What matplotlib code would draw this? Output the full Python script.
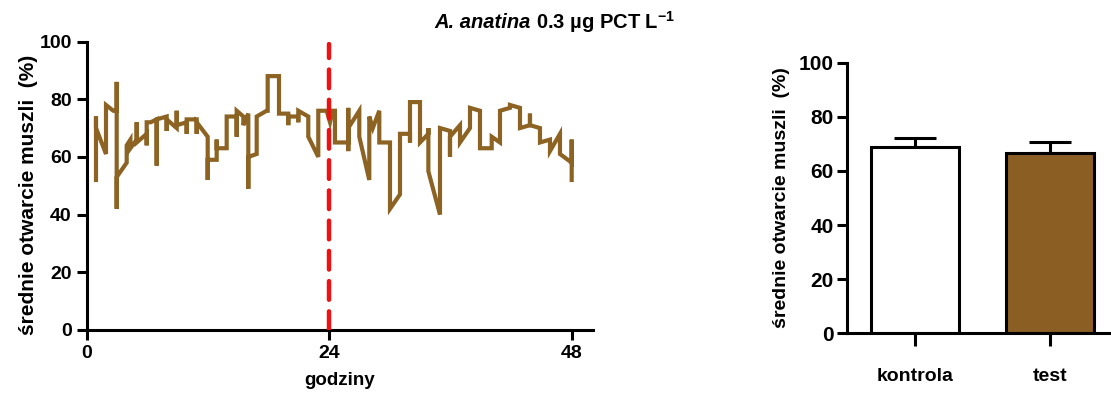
import matplotlib
matplotlib.use("Agg")
import matplotlib.pyplot as plt

plt.rcParams['font.family'] = ['Liberation Sans', 'DejaVu Sans']
plt.rcParams['mathtext.fontset'] = 'custom'
plt.rcParams['mathtext.rm'] = 'Liberation Sans:bold'
plt.rcParams['mathtext.default'] = 'rm'

# ---- time series (hours, mean shell opening %) ----
hours = [0.89, 0.89, 0.89, 1.88, 1.88, 2.6, 2.94, 2.94, 2.94, 2.94, 3.93, 3.93, 4.3, 4.3,
         4.92, 4.92, 4.92, 5.91, 5.91, 5.91, 6.3, 6.9, 6.9, 6.9, 7.89, 7.89, 7.89, 8.88,
         8.88, 8.88, 9.87, 9.87, 9.87, 10.86, 10.86, 10.86, 11.95, 11.95, 11.95, 12.84,
         12.84, 12.84, 13.83, 13.83, 14.82, 14.82, 14.82, 15.48, 15.48, 15.97, 15.97,
         15.97, 16.8, 16.8, 17.79, 17.89, 17.89, 19.01, 19.01, 19.93, 19.93, 19.93, 20.92,
         20.92, 20.92, 21.91, 21.91, 22.9, 22.9, 23.73, 24.06, 24.3, 24.55, 24.55, 25.87,
         25.87, 25.87, 25.87, 26.96, 26.96, 27.95, 27.95, 28.3, 28.94, 28.94, 30.0, 30.0,
         30.99, 30.99, 31.98, 31.98, 31.98, 32.97, 32.97, 33.8, 33.8, 33.8, 34.95, 34.95,
         35.94, 35.94, 35.94, 36.93, 36.93, 37.92, 37.92, 38.91, 38.91, 40.07, 40.07,
         40.89, 40.89, 41.88, 41.88, 42.87, 42.87, 43.86, 43.86, 43.86, 44.85, 44.85,
         45.84, 45.84, 46.83, 46.83, 47.99, 47.99, 47.99]
opening = [52, 74, 70, 61, 78, 76, 76, 86, 42, 53, 58, 64, 66, 63,
           66, 72, 65, 68, 64, 72, 72, 73, 57, 73, 74, 69, 73, 70,
           76, 71, 72, 68, 73, 73, 68, 72, 67, 52, 59, 59,
           66, 63, 63, 74, 74, 67, 76, 74, 71, 75, 49,
           60, 61, 74, 76, 76, 88, 88, 75, 75, 71, 74, 74,
           72, 76, 74, 67, 60, 76, 76, 72, 76, 76, 65, 65,
           77, 62, 70, 76, 67, 52, 74, 70, 76, 65, 65, 42,
           47, 68, 68, 65, 79, 79, 65, 68, 70, 55, 40, 70,
           69, 60, 67, 71, 65, 70, 77, 76, 63, 63, 67,
           65, 76, 77, 78, 77, 70, 71, 75, 71, 70, 65,
           66, 62, 68, 61, 58, 66, 52]
x_ticks = [0, 24, 48]
y_ticks = [0, 20, 40, 60, 80, 100]
treatment_start = 24

# ---- bar panel ----
groups = ['kontrola', 'test']
means = [69.0, 66.8]
errors = [3.1, 4.0]

brown = '#8C6322'
bar_brown = '#8B5E24'

fig = plt.figure(figsize=(11.11, 3.98), dpi=100)

ax1 = fig.add_axes([87/1111, 68/398, 506/1111, 288.5/398])
ax1.plot(hours, opening, color=brown, lw=3.0, solid_joinstyle='miter', zorder=3)
ax1.plot([treatment_start, treatment_start], [0, 99], color='#EE1111', lw=3.2,
         dashes=(4.2, 2.6), dash_capstyle='round', zorder=4)
ax1.set_xlim(0, 50.1)
ax1.set_ylim(0, 100)
ax1.set_xticks(x_ticks)
ax1.set_yticks(y_ticks)
for s in ['top', 'right']:
    ax1.spines[s].set_visible(False)
for s in ['left', 'bottom']:
    ax1.spines[s].set_linewidth(2.2)
ax1.tick_params(axis='both', width=2.2, length=7, labelsize=14, pad=4)
for lab in ax1.get_xticklabels() + ax1.get_yticklabels():
    lab.set_fontweight('bold')
ax1.set_xlabel('godziny', fontsize=13.5, fontweight='bold', labelpad=7)
ax1.set_ylabel('średnie otwarcie muszli  (%)', fontsize=15, fontweight='bold')
ax1.yaxis.set_label_coords(-0.097, 0.47)

# title
fig.text(531/1111, 1 - 22/398, 'A. anatina', fontsize=14.5, fontweight='bold',
         fontstyle='italic', ha='right', va='center')
fig.text(536/1111, 1 - 22/398, '0.3 µg PCT L$^{-1}$', fontsize=14.5, fontweight='bold',
         ha='left', va='center')

ax2 = fig.add_axes([847.3/1111, 64.7/398, 262.7/1111, 270.6/398])
xpos = list(range(len(groups)))
ax2.bar(xpos, means, width=0.654, color=['white', bar_brown], edgecolor='black',
        linewidth=2.2, zorder=2)
ax2.errorbar(xpos, means, yerr=[[0, 0], errors], fmt='none', ecolor='black',
             elinewidth=2.2, capsize=15, capthick=2.2, zorder=1)
ax2.set_xlim(-0.503, 1.448)
ax2.set_ylim(0, 100)
ax2.set_xticks(xpos)
ax2.set_xticklabels(groups)
ax2.set_yticks(y_ticks)
for s in ['top', 'right']:
    ax2.spines[s].set_visible(False)
for s in ['left', 'bottom']:
    ax2.spines[s].set_linewidth(2.2)
ax2.tick_params(axis='y', width=2.2, length=7, labelsize=15, pad=3)
ax2.tick_params(axis='x', width=2.2, length=9, labelsize=14, pad=16)
for lab in ax2.get_xticklabels() + ax2.get_yticklabels():
    lab.set_fontweight('bold')
ax2.set_ylabel('średnie otwarcie muszli  (%)', fontsize=14, fontweight='bold', labelpad=6)

fig.savefig('out.png', dpi=100)
